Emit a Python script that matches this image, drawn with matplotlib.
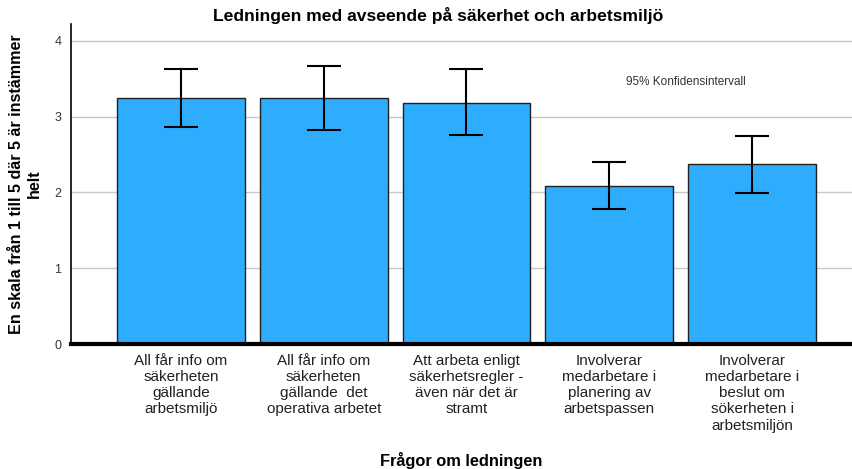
import numpy as np
import matplotlib
matplotlib.use("Agg")
import matplotlib.pyplot as plt

plt.rcParams['font.family'] = ['Liberation Sans', 'DejaVu Sans']

# data
categories = [
    "All får info om\nsäkerheten\ngällande\narbetsmiljö",
    "All får info om\nsäkerheten\ngällande  det\noperativa arbetet",
    "Att arbeta enligt\nsäkerhetsregler -\näven när det är\nstramt",
    "Involverar\nmedarbetare i\nplanering av\narbetspassen",
    "Involverar\nmedarbetare i\nbeslut om\nsökerheten i\narbetsmiljön",
]
means = [3.25, 3.25, 3.18, 2.09, 2.37]
ci_low = [2.86, 2.82, 2.75, 1.78, 1.99]
ci_high = [3.63, 3.67, 3.62, 2.40, 2.74]
yticks = [0, 1, 2, 3, 4]

x = np.arange(len(categories))
means = np.array(means)
yerr = np.vstack([means - np.array(ci_low), np.array(ci_high) - means])

fig = plt.figure(figsize=(8.52, 4.69), dpi=100)
ax = fig.add_axes([71 / 852, 125 / 469, 781 / 852, 320 / 469])

ax.bar(x, means, width=0.895, color="#2eadff", edgecolor="#1f1f1f", linewidth=1.0, zorder=2)
ax.errorbar(x, means, yerr=yerr, fmt="none", ecolor="black", elinewidth=1.5,
            capsize=12.5, capthick=1.5, zorder=3)

ax.set_xlim(-0.77, 4.70)
ax.set_ylim(0, 4.22)
ax.set_yticks(yticks)
ax.set_yticklabels([str(t) for t in yticks], fontsize=9, color="#333333")
ax.set_xticks(x)
ax.set_xticklabels(categories, fontsize=11, color="#222222", linespacing=1.2)
ax.tick_params(length=0)
ax.tick_params(axis="x", pad=7)
ax.tick_params(axis="y", pad=7)
ax.yaxis.grid(True, color="#c8c8c8", linewidth=1.0, zorder=0)
ax.set_axisbelow(True)

for side in ["top", "right"]:
    ax.spines[side].set_visible(False)
ax.spines["left"].set_linewidth(1.2)
ax.spines["bottom"].set_linewidth(3)
ax.spines["bottom"].set_zorder(4)

ax.set_ylabel("En skala från 1 till 5 där 5 är instämmer\nhelt", fontsize=11.6,
              fontweight="bold", linespacing=1.25, labelpad=9)
ax.set_xlabel("Frågor om ledningen", fontsize=11.8, fontweight="bold", labelpad=14)

ax.text(0.787, 0.819, "95% Konfidensintervall", transform=ax.transAxes,
        ha="center", va="center", fontsize=8.5, color="#333333")

fig.text(438 / 852, 1 - 15 / 469, "Ledningen med avseende på säkerhet och arbetsmiljö",
         ha="center", va="center", fontsize=12.6, fontweight="bold")

fig.savefig("out.png", dpi=100)
